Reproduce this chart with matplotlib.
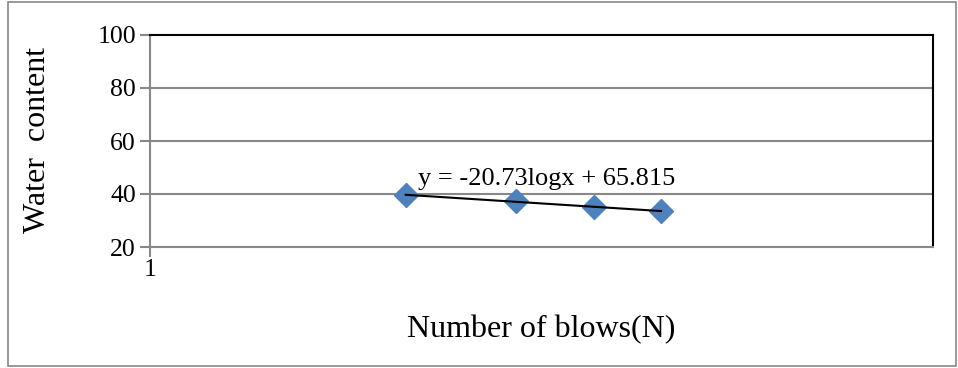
import matplotlib.pyplot as plt
import numpy as np
from matplotlib.patches import Rectangle

plt.rcParams['font.family'] = ['Liberation Serif', 'DejaVu Serif']

# number of blows and water content
blows = [4.5, 8.6, 13.6, 20.2]
water = [39.5, 37.4, 35.2, 33.4]
y_ticks = [20, 40, 60, 80, 100]
trend_label = 'y = -20.73logx + 65.815'

fig = plt.figure(figsize=(9.58, 3.68), dpi=100)
ax = fig.add_axes([150 / 958, 1 - 247 / 368, 783 / 958, 212 / 368])

# outer chart border
fig.patches.append(Rectangle((8 / 958, 2 / 368), 948 / 958, 364 / 368,
                             transform=fig.transFigure, fill=False,
                             edgecolor='#888888', linewidth=1.2))

ax.set_xscale('log')
ax.set_xlim(1, 100)
ax.set_ylim(20, 100)
ax.set_yticks(y_ticks)
ax.set_xticks([1])
ax.set_xticklabels(['1'])
ax.xaxis.set_minor_locator(plt.NullLocator())

for v in y_ticks[1:-1]:
    ax.axhline(v, color='#888888', linewidth=1.5, zorder=1)

for side in ['top', 'right']:
    ax.spines[side].set_color('black')
    ax.spines[side].set_linewidth(1.5)
for side in ['left', 'bottom']:
    ax.spines[side].set_color('#888888')
    ax.spines[side].set_linewidth(1.5)

ax.tick_params(axis='both', direction='out', length=7, width=1.5,
               color='#888888', labelsize=18.5)
ax.tick_params(axis='x', pad=2)
ax.tick_params(axis='y', pad=3)

# log trendline like the spreadsheet one
bx = np.array(blows)
coef = np.polyfit(np.log(bx), water, 1)
ax.plot(bx, coef[0] * np.log(bx) + coef[1], color='black',
        linewidth=1.5, zorder=3)

ax.plot(blows, water, linestyle='none', marker='D', markersize=12.5,
        color='#4F81BD', zorder=2)

ax.text(4.85, 43.3, trend_label, fontsize=19, zorder=4)

ax.set_xlabel('Number of blows(N)', fontsize=23, labelpad=24)
fig.text(38 / 958, 1 - 140 / 368, 'Water  content', fontsize=23,
         rotation=90, ha='center', va='center')

fig.savefig('out.png', dpi=100)
